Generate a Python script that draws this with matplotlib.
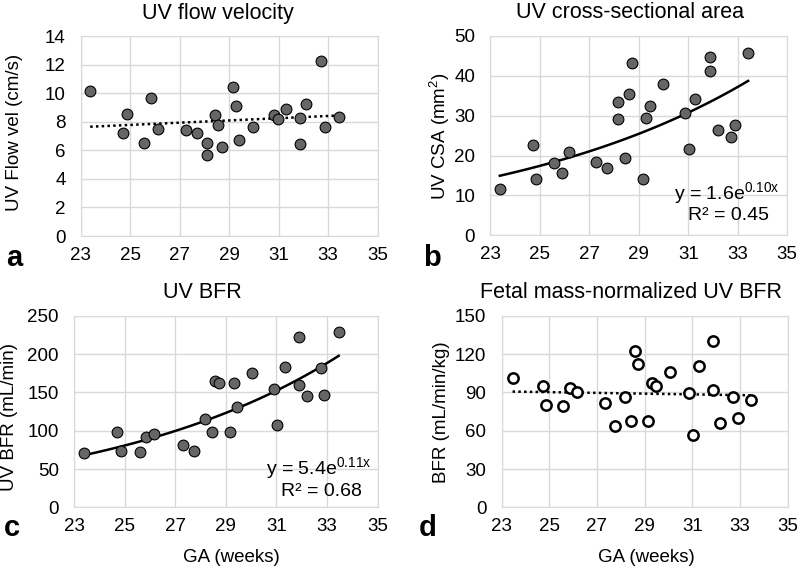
import numpy as np
import matplotlib
matplotlib.use('Agg')
import matplotlib.pyplot as plt

plt.rcParams['font.family'] = ['Liberation Sans', 'DejaVu Sans']
plt.rcParams['mathtext.fontset'] = 'custom'
plt.rcParams['mathtext.rm'] = 'Liberation Sans'
plt.rcParams['mathtext.it'] = 'Liberation Sans'

# a - UV flow velocity
ga_a = [23.38, 24.70, 24.85, 25.56, 25.83, 26.14, 27.26, 27.69, 28.12, 28.12, 28.43, 28.56, 28.70,
        29.14, 29.28, 29.41, 29.98, 30.82, 30.99, 31.28, 31.86, 31.86, 32.10, 32.70, 32.86, 33.42]
vel = [10.15, 7.21, 8.54, 6.53, 9.66, 7.51, 7.40, 7.19, 6.53, 5.65, 8.45, 7.75, 6.23,
       10.41, 9.10, 6.70, 7.63, 8.45, 8.21, 8.87, 8.28, 6.44, 9.24, 12.27, 7.61, 8.31]

# b - UV cross-sectional area
ga_b = [23.38, 24.72, 24.86, 25.57, 25.88, 26.16, 27.28, 27.71, 28.16, 28.16, 28.43, 28.59, 28.74,
        29.17, 29.30, 29.44, 29.98, 30.85, 31.01, 31.28, 31.86, 31.86, 32.20, 32.71, 32.87, 33.42]
csa = [11.6, 22.7, 14.1, 18.1, 15.7, 21.0, 18.3, 17.0, 33.4, 29.1, 19.3, 35.5, 43.1,
       14.0, 29.5, 32.4, 38.0, 30.6, 21.7, 34.2, 44.6, 41.3, 26.3, 24.6, 27.6, 45.8]

# c - UV BFR
ga_c = [23.41, 24.71, 24.86, 25.60, 25.83, 26.16, 27.30, 27.73, 28.16, 28.44, 28.59, 28.73,
        29.15, 29.32, 29.46, 30.04, 30.91, 31.02, 31.33, 31.89, 31.91, 32.21, 32.75, 32.89, 33.46]
bfr = [71, 98, 73, 72, 92, 96, 82, 74, 115, 98, 165, 162,
       98, 162, 131, 175, 155, 107, 183, 160, 222, 146, 182, 147, 229]

# d - fetal mass-normalized UV BFR
ga_d = [23.46, 24.75, 24.86, 25.59, 25.87, 26.17, 27.32, 27.76, 28.17, 28.43, 28.61, 28.72,
        29.15, 29.32, 29.46, 30.05, 30.87, 31.01, 31.29, 31.85, 31.88, 32.16, 32.72, 32.90, 33.45]
bfr_norm = [101.6, 95.4, 80.2, 79.7, 93.8, 90.1, 81.5, 64.0, 86.8, 67.4, 122.5, 112.6,
            67.4, 97.5, 95.1, 105.8, 89.9, 57.0, 110.5, 130.7, 92.0, 65.8, 86.2, 69.8, 84.1]

GRID = '#d9d9d9'
FILL = '#666666'
FS_TICK = 13.5
FS_LBL = 13.5
FS_TITLE = 15.5
FS_EQ = 14


def setup(ax, ymax, ystep):
    ax.set_xlim(23, 35)
    ax.set_ylim(0, ymax)
    ax.set_xticks(range(23, 36, 2))
    ax.set_yticks(np.arange(0, ymax + 0.1, ystep))
    ax.grid(True, color=GRID, lw=1)
    ax.set_axisbelow(True)
    for s in ax.spines.values():
        s.set_color(GRID)
    ax.tick_params(axis='y', length=0, labelsize=FS_TICK, pad=11)
    ax.tick_params(axis='x', length=0, labelsize=FS_TICK, pad=8)


def trend_lin(ax, x, y):
    k, c = np.polyfit(x, y, 1)
    xs = np.linspace(min(x), max(x), 50)
    ax.plot(xs, k * xs + c, color='black', ls=(0, (1, 1.3)), lw=1.8, zorder=1)


def trend_exp(ax, x, y):
    k, c = np.polyfit(x, np.log(y), 1)
    xs = np.linspace(min(x), max(x), 100)
    ax.plot(xs, np.exp(c + k * xs), color='black', lw=1.8, zorder=1)


fig = plt.figure(figsize=(8, 5.68), dpi=100)

ax_a = fig.add_axes([0.101, 0.5845, 0.371, 0.352])
ax_b = fig.add_axes([0.613, 0.5857, 0.371, 0.351])
ax_c = fig.add_axes([0.0925, 0.1069, 0.3796, 0.3368])
ax_d = fig.add_axes([0.627, 0.1069, 0.3575, 0.3368])

setup(ax_a, 14, 2)
trend_lin(ax_a, ga_a, vel)
ax_a.scatter(ga_a, vel, s=60, c=FILL, edgecolors='black', linewidths=0.8, zorder=3)

setup(ax_b, 50, 10)
trend_exp(ax_b, ga_b, csa)
ax_b.scatter(ga_b, csa, s=60, c=FILL, edgecolors='black', linewidths=0.8, zorder=3)
ax_b.text(0.975, 0.21, r'y = 1.6e$^{0.10x}$', transform=ax_b.transAxes, ha='right', va='center', fontsize=FS_EQ)
ax_b.text(0.94, 0.10, 'R² = 0.45', transform=ax_b.transAxes, ha='right', va='center', fontsize=FS_EQ)

setup(ax_c, 250, 50)
trend_exp(ax_c, ga_c, bfr)
ax_c.scatter(ga_c, bfr, s=60, c=FILL, edgecolors='black', linewidths=0.8, zorder=3)
ax_c.text(0.98, 0.205, r'y = 5.4e$^{0.11x}$', transform=ax_c.transAxes, ha='right', va='center', fontsize=FS_EQ)
ax_c.text(0.948, 0.08, 'R² = 0.68', transform=ax_c.transAxes, ha='right', va='center', fontsize=FS_EQ)

setup(ax_d, 150, 30)
trend_lin(ax_d, ga_d, bfr_norm)
ax_d.scatter(ga_d, bfr_norm, s=55, facecolors='white', edgecolors='black', linewidths=1.8, zorder=3)

# titles, axis labels and panel letters (Excel style placement)
fig.text(218 / 800, 1 - 13 / 568, 'UV flow velocity', ha='center', va='center', fontsize=FS_TITLE)
fig.text(630 / 800, 1 - 13 / 568, 'UV cross-sectional area', ha='center', va='center', fontsize=FS_TITLE)
fig.text(202 / 800, 1 - 293 / 568, 'UV BFR', ha='center', va='center', fontsize=FS_TITLE)
fig.text(631 / 800, 1 - 293 / 568, 'Fetal mass-normalized UV BFR', ha='center', va='center', fontsize=FS_TITLE)

fig.text(15 / 800, 1 - 132 / 568, 'UV Flow vel (cm/s)', rotation=90, ha='center', va='center', fontsize=FS_LBL)
fig.text(440 / 800, 1 - 136 / 568, r'UV CSA (mm$^2$)', rotation=90, ha='center', va='center', fontsize=FS_LBL)
fig.text(10 / 800, 1 - 417 / 568, 'UV BFR (mL/min)', rotation=90, ha='center', va='center', fontsize=FS_LBL)
fig.text(442 / 800, 1 - 412 / 568, 'BFR (mL/min/kg)', rotation=90, ha='center', va='center', fontsize=FS_LBL)

fig.text(231 / 800, 1 - 557 / 568, 'GA (weeks)', ha='center', va='center', fontsize=FS_LBL)
fig.text(646 / 800, 1 - 557 / 568, 'GA (weeks)', ha='center', va='center', fontsize=FS_LBL)

for lbl, x, y in [('a', 14, 258), ('b', 432, 258), ('c', 12, 528), ('d', 428, 528)]:
    fig.text(x / 800, 1 - y / 568, lbl, ha='center', va='center', fontsize=21, fontweight='bold')

plt.savefig('out.png', dpi=100)
